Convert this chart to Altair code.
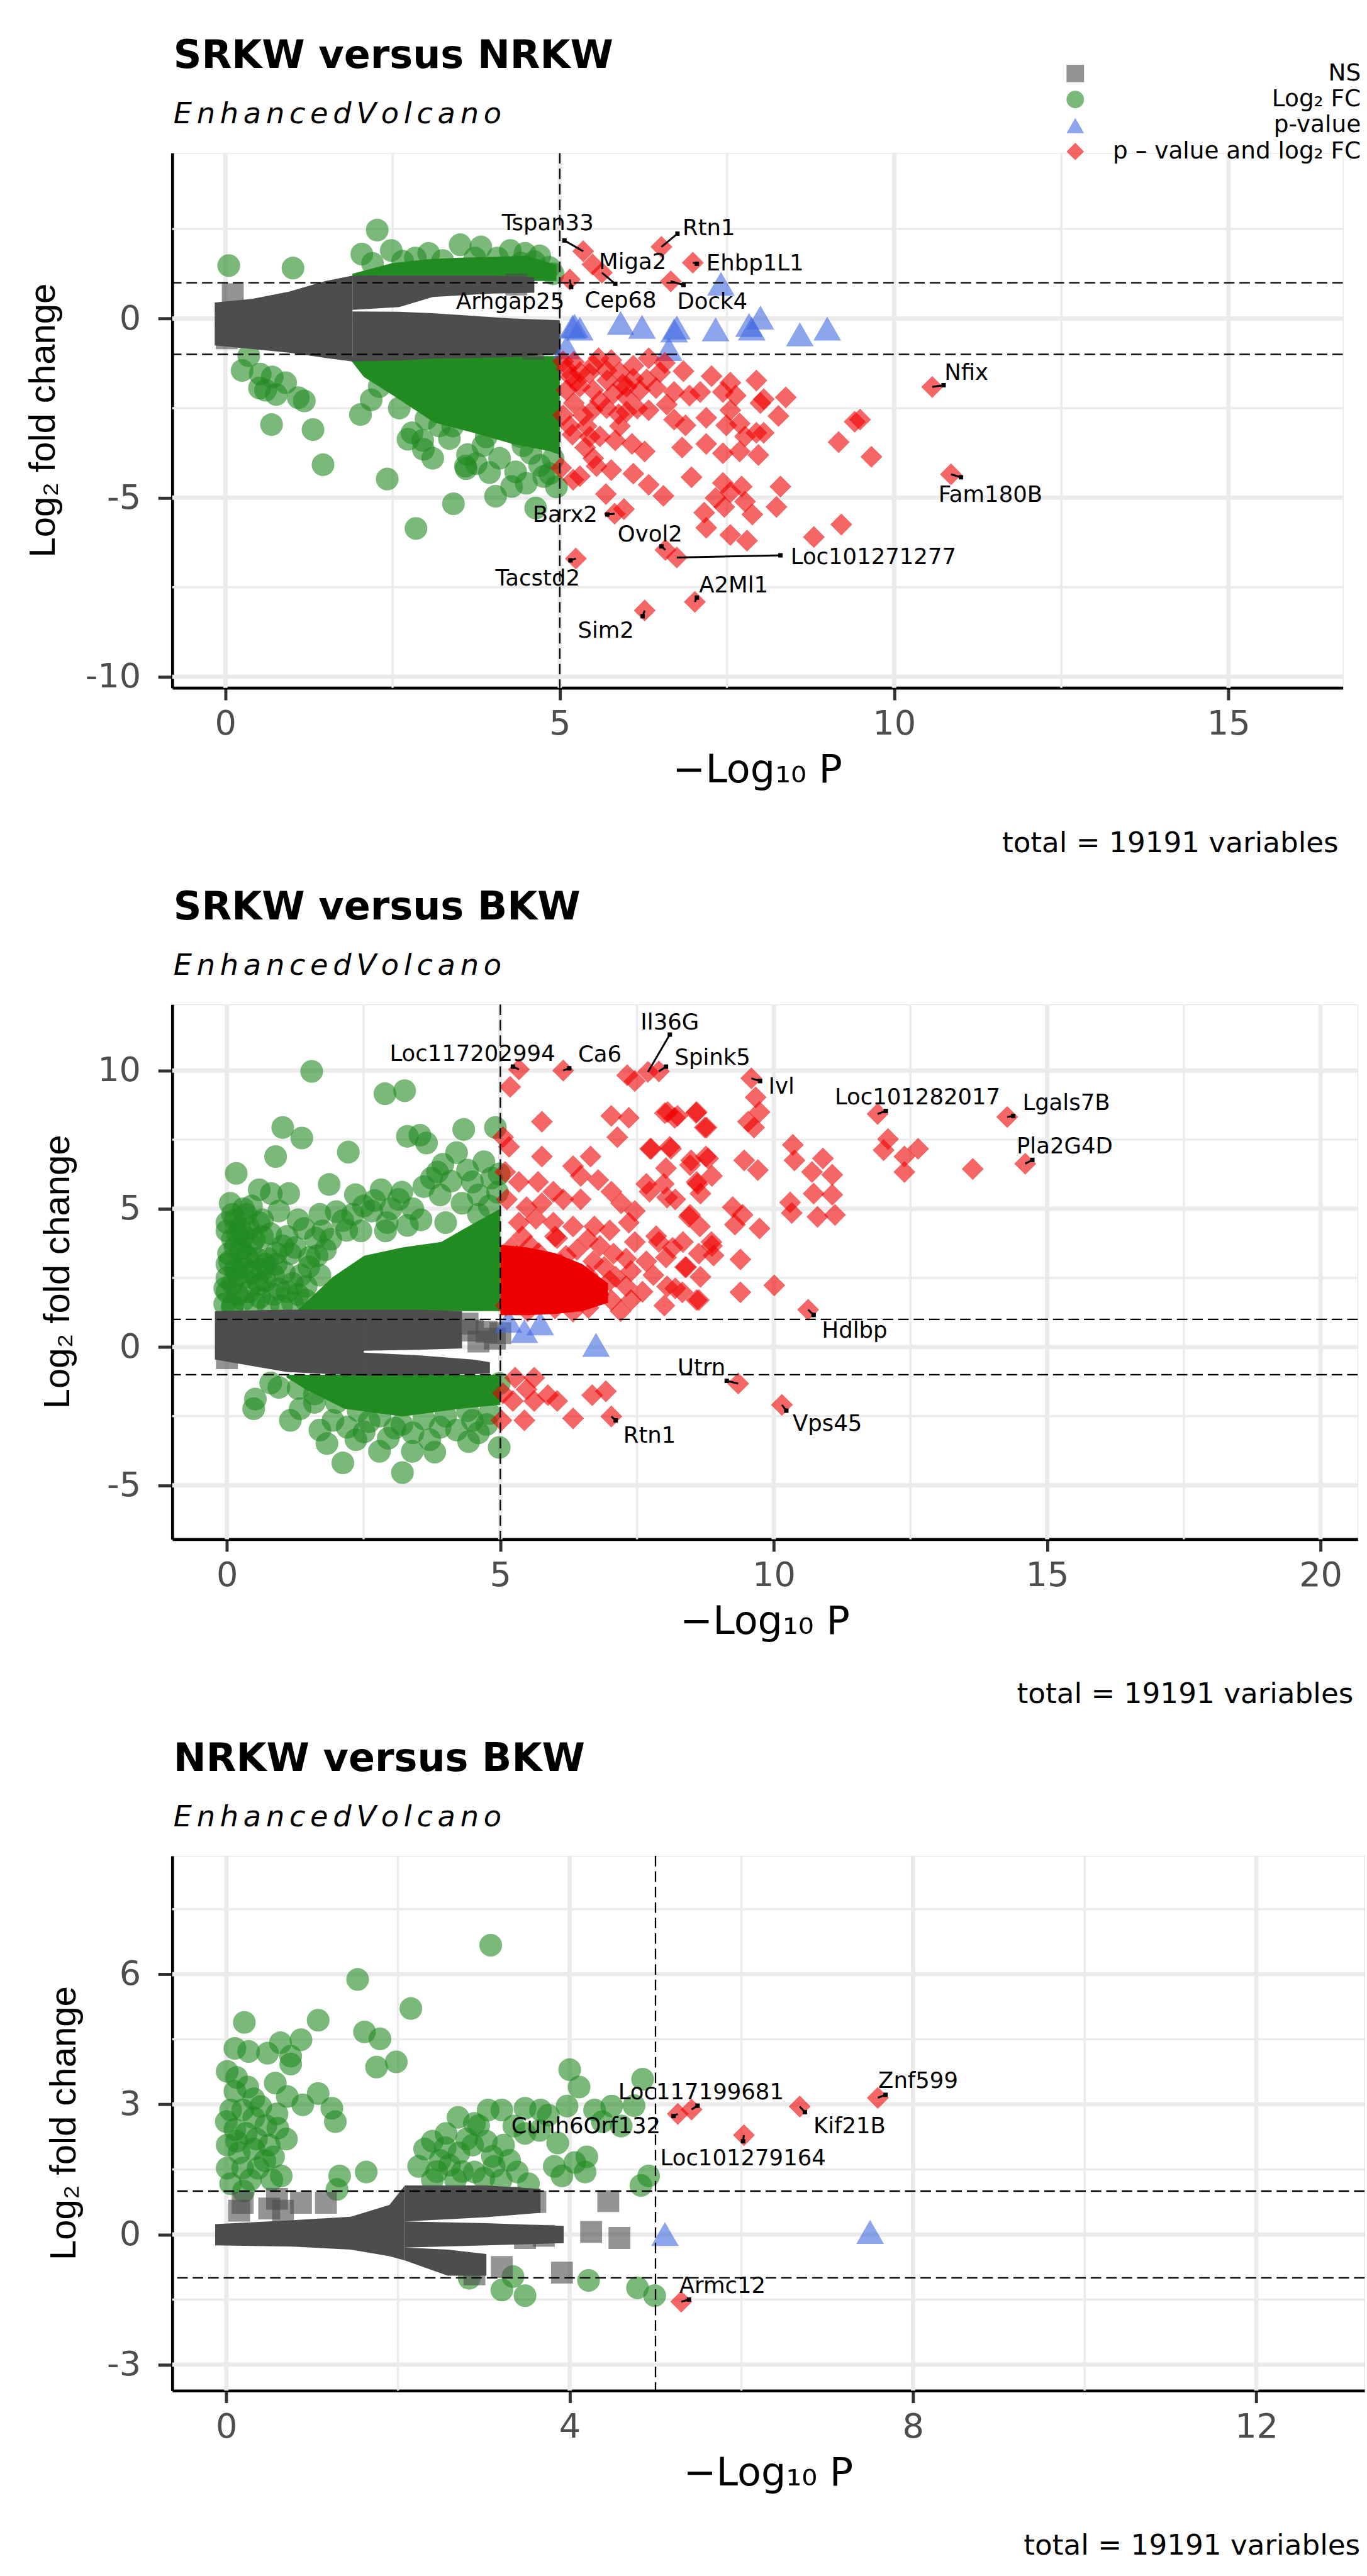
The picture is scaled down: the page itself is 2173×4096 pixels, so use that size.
import altair as alt
import pandas as pd

FONT = "DejaVu Sans"
FONT_Y = "Liberation Sans"

CATS = ["NS", "Log₂ FC", "p-value", "p – value and log₂ FC"]
CAT_COLORS = ["#4D4D4D", "#228B22", "#4169E1", "#EE0000"]
CAT_SHAPES = ["square", "circle", "triangle-up", "diamond"]
CAT_SIZES = [1250, 1350, 2000, 1250]

TITLES = ["SRKW versus NRKW", "SRKW versus BKW", "NRKW versus BKW"]
SUBTITLE = "EnhancedVolcano"
CAPTION = "total = 19191 variables"
X_TITLE = "−Log₁₀ P"
Y_TITLE = "Log₂ fold change"

# ------------------------------------------------------------------ panel 1
P1_XDOM = [-0.795, 16.71]
P1_YDOM = [-10.31, 4.62]
P1_XMAJ = [0, 5, 10, 15]
P1_XMIN = [2.5, 7.5, 12.5]
P1_YMAJ = [-10, -5, 0]
P1_YMIN = [-7.5, -2.5, 2.5]

P1_GRAY_BANDS = {
    "trunk": [(-0.16, -0.75, 0.45), (0.4, -0.85, 0.55), (0.95, -0.95, 0.75), (1.5, -1.1, 1.05), (1.9, -1.2, 1.2)],
    "upper": [(1.9, 0.24, 1.2), (2.6, 0.32, 1.2), (3.1, 0.6, 1.2), (4.0, 0.7, 1.2), (4.62, 0.72, 1.15)],
    "lower": [(1.9, -1.2, 0.2), (2.6, -1.17, 0.19), (3.1, -1.12, 0.15), (4.3, -1.08, 0.0), (5.0, -1.0, -0.05)],
}
P1_GREEN_BANDS = {
    "up": [(1.9, 1.05, 1.25), (2.5, 1.05, 1.55), (3.0, 1.05, 1.65), (3.5, 1.05, 1.7), (4.0, 1.05, 1.72), (4.5, 1.05, 1.75), (4.95, 1.05, 1.5)],
    "low": [(1.85, -1.1, -1.05), (2.07, -1.63, -1.05), (2.51, -2.15, -1.05), (3.12, -2.9, -1.05), (3.73, -3.2, -1.05), (4.29, -3.5, -1.05), (4.84, -3.7, -1.05), (5.0, -3.8, -1.05)],
}
P1_RED_BANDS = {}

P1_NS = [(0.11, 0.68), (0.02, -0.55), (4.35, 0.95), (4.6, -0.85), (4.85, -0.7)]
P1_FC = [
    (0.05, 1.48), (1.01, 1.41), (2.27, 2.47), (2.04, 1.80), (2.48, 1.90), (2.20, 1.54), (2.84, 1.69), (3.04, 1.82),
    (3.51, 2.06), (3.82, 2.00), (4.26, 1.90), (4.48, 1.82), (4.84, 1.43), (4.62, 1.59), (3.73, 1.69), (4.07, 1.69),
    (4.70, 1.75), (4.42, 1.55), (3.25, 1.62), (2.65, 1.60), (4.90, 1.25),
    (0.35, -1.04), (0.25, -1.45), (0.51, -1.94), (0.70, -1.63), (0.90, -1.79), (0.76, -2.12), (1.09, -2.21),
    (1.18, -2.30), (0.69, -2.96), (1.31, -3.10), (1.46, -4.08), (2.02, -2.68), (2.18, -2.27), (2.42, -4.48),
    (2.85, -5.86), (3.41, -5.17), (4.04, -4.96), (4.28, -4.69), (4.64, -5.29), (3.60, -4.19), (2.96, -3.65),
    (2.73, -3.37), (4.76, -4.41), (4.34, -4.28), (4.85, -4.33), (4.57, -3.76), (4.90, -3.91), (4.40, -3.29),
    (3.59, -4.12), (3.62, -3.80), (3.35, -3.35), (3.85, -3.55), (4.10, -3.90), (4.70, -4.10), (3.20, -3.00),
    (2.79, -3.19), (2.95, -3.40), (0.52, -1.55), (0.60, -2.00), (3.95, -4.30), (4.50, -4.60), (3.10, -3.90),
    (3.75, -4.05), (4.95, -4.70), (2.3, -1.9), (2.6, -2.5), (3.0, -2.8), (3.4, -3.0), (3.9, -3.3), (4.45, -3.55),
]
P1_P = [
    (5.19, -0.23), (5.30, -0.28), (5.91, -0.12), (6.23, -0.23), (6.71, -0.33), (7.33, -0.30), (7.41, 0.97),
    (7.83, -0.18), (8.00, 0.03), (7.87, -0.28), (8.59, -0.44), (9.00, -0.28), (6.63, -0.85), (5.10, -0.80),
    (6.75, -0.25), (5.22, -0.20),
]
P1_FCP = [
    (5.15, 1.09), (5.35, 1.88), (5.49, 1.51), (5.63, 1.28), (6.52, 2.00), (6.99, 1.56), (6.66, 1.04),
    (5.21, -1.21), (5.58, -1.11), (5.77, -1.16), (6.10, -1.32), (6.33, -1.11), (6.57, -1.24), (6.85, -1.47),
    (7.27, -1.61), (7.55, -1.79), (7.94, -1.73),
    (5.16, -1.63), (5.44, -1.53), (5.71, -1.73), (5.94, -1.84), (6.10, -1.68), (6.44, -1.94), (6.71, -2.05),
    (6.94, -2.15), (7.10, -2.05), (7.44, -2.05), (7.63, -2.15), (8.05, -2.25), (8.38, -2.20), (8.27, -2.72),
    (5.21, -2.36), (5.49, -2.56), (5.88, -2.67), (6.16, -2.51), (6.33, -2.56), (6.71, -2.82), (6.88, -2.98),
    (7.19, -2.77), (7.55, -2.56), (7.69, -2.93), (7.49, -2.98), (8.00, -2.36),
    (5.19, -3.24), (5.38, -3.60), (5.60, -3.29), (5.83, -3.40), (6.08, -3.50), (6.27, -3.71), (6.83, -3.60),
    (7.19, -3.50), (7.44, -3.76), (7.69, -3.71), (7.77, -3.29), (7.94, -3.19), (8.05, -3.19), (7.97, -3.81),
    (6.97, -4.43),
    (5.02, -4.17), (5.55, -4.12), (5.77, -4.23), (6.10, -4.33), (6.33, -4.64), (6.55, -4.95), (5.69, -4.90),
    (5.96, -5.32), (7.44, -4.59), (7.55, -4.85), (7.33, -5.01), (7.72, -4.69), (8.30, -4.69), (7.46, -5.26),
    (7.16, -5.42), (7.77, -5.11), (7.88, -5.47), (8.24, -5.26), (7.19, -5.84), (7.55, -6.04), (7.80, -6.20),
    (8.80, -6.10), (9.21, -5.75),
    (5.82, -5.45), (6.58, -6.46), (6.75, -6.67), (5.24, -6.70), (6.27, -8.15), (7.02, -7.91),
    (9.41, -2.88), (9.49, -2.82), (9.17, -3.45), (9.66, -3.86), (10.57, -1.91), (10.85, -4.35),
    (5.10, -1.40), (5.30, -1.50), (5.50, -1.30), (5.70, -1.45), (5.90, -1.50), (5.30, -1.90), (5.50, -2.00),
    (5.80, -2.10), (6.00, -2.20), (5.60, -2.30), (5.10, -2.00), (5.35, -2.70), (5.70, -2.50), (5.15, -3.00),
    (5.40, -3.00), (5.90, -3.00), (6.30, -1.70), (6.50, -1.50), (6.00, -1.90), (5.20, -4.50), (5.50, -3.90),
    (5.30, -4.40), (5.05, -1.20), (5.25, -1.75), (6.20, -2.00), (6.60, -2.40), (6.00, -2.60), (5.45, -3.30),
    (5.05, -2.70),
]
# name, label x, label y, point x, point y, connector end x, connector end y
P1_LABELS = [
    ("Tspan33", 4.82, 2.65, 5.35, 1.88, 5.07, 2.18),
    ("Rtn1", 7.23, 2.52, 6.52, 2.00, 6.76, 2.37),
    ("Miga2", 6.09, 1.57, 5.49, 1.51, None, None),
    ("Ehbp1L1", 7.92, 1.53, 6.99, 1.56, 7.05, 1.53),
    ("Arhgap25", 4.26, 0.47, 5.15, 1.09, 5.17, 0.88),
    ("Cep68", 5.91, 0.50, 5.63, 1.28, 5.83, 0.97),
    ("Dock4", 7.28, 0.47, 6.66, 1.04, 6.85, 0.94),
    ("Nfix", 11.08, -1.53, 10.57, -1.91, 10.74, -1.86),
    ("Fam180B", 11.44, -4.93, 10.85, -4.35, 11.00, -4.43),
    ("Barx2", 5.08, -5.49, 5.82, -5.45, 5.71, -5.47),
    ("Ovol2", 6.35, -6.04, 6.58, -6.46, 6.52, -6.36),
    ("Loc101271277", 9.69, -6.67, 6.75, -6.67, 8.30, -6.61),
    ("Tacstd2", 4.67, -7.26, 5.24, -6.70, 5.16, -6.75),
    ("Sim2", 5.69, -8.72, 6.27, -8.15, 6.24, -8.31),
    ("A2Ml1", 7.60, -7.45, 7.02, -7.91, 7.05, -7.79),
]

# ------------------------------------------------------------------ panel 2
P2_XDOM = [-1.0, 20.68]
P2_YDOM = [-6.95, 12.39]
P2_XMAJ = [0, 5, 10, 15, 20]
P2_XMIN = [2.5, 7.5, 12.5, 17.5]
P2_YMAJ = [-5, 0, 5, 10]
P2_YMIN = [-2.5, 2.5, 7.5]

P2_GRAY_BANDS = {
    "trunk": [(-0.22, -0.45, 1.3), (1.09, -0.9, 1.35), (2.5, -1.04, 1.35)],
    "upper": [(2.5, -0.13, 1.35), (3.5, -0.1, 1.35), (4.3, -0.05, 1.3)],
    "lower": [(2.5, -1.04, -0.2), (3.5, -1.02, -0.3), (4.5, -0.98, -0.45), (4.81, -0.95, -0.55)],
}
P2_GREEN_BANDS = {
    "up": [(1.3, 1.3, 1.35), (1.94, 1.3, 2.54), (2.51, 1.3, 3.3), (3.21, 1.3, 3.6), (3.92, 1.3, 3.8), (4.27, 1.3, 4.2), (4.63, 1.3, 4.6), (5.0, 1.3, 5.0)],
    "low": [(1.09, -1.1, -1.0), (1.44, -1.53, -1.0), (2.15, -2.23, -1.0), (3.21, -2.51, -1.0), (4.27, -2.23, -1.0), (5.0, -2.09, -1.0)],
}
P2_RED_BANDS = {
    "core": [(5.0, 1.15, 3.7), (5.5, 1.15, 3.6), (6.0, 1.2, 3.4), (6.5, 1.3, 3.0), (6.97, 1.6, 2.3)],
}
P2_NS = [(4.5, 0.6), (4.75, 0.55), (5.0, 0.5), (4.9, 0.3), (4.6, 0.2), (4.4, 0.85), (0.0, -0.4)]
P2_FC = [
    (1.55, 9.97), (2.89, 9.16), (3.25, 9.27), (1.02, 7.94), (1.37, 7.56), (2.22, 7.05), (0.89, 6.89), (0.17, 6.28),
    (3.30, 7.62), (3.53, 7.66), (3.65, 7.38), (4.33, 7.87), (4.91, 7.94), (4.20, 7.03), (3.95, 6.61), (3.85, 6.33),
    (3.74, 6.11), (0.59, 5.69), (0.81, 5.55), (1.13, 5.55), (1.87, 5.88), (2.35, 5.51), (2.82, 5.69), (3.14, 5.34),
    (4.49, 5.97), (4.84, 6.11), (4.98, 6.26), (0.06, 5.20), (0.00, 4.50), (0.24, 4.29), (0.59, 4.50), (0.95, 4.92),
    (1.41, 4.29), (2.12, 4.57), (2.19, 4.22), (1.62, 3.94), (1.80, 3.52), (1.51, 3.24), (1.16, 3.38), (1.02, 3.66),
    (0.38, 3.24), (0.03, 3.38), (-0.04, 2.12), (0.59, 2.26), (-0.04, 1.56), (1.44, 1.70), (2.65, 4.92), (2.93, 4.50),
    (0.15, 2.80), (0.30, 2.50), (0.10, 3.90), (0.45, 3.70), (0.70, 3.00), (0.80, 4.10), (0.20, 1.90), (0.50, 1.60),
    (0.85, 1.90), (1.20, 2.30), (1.05, 2.70), (0.35, 4.80), (0.65, 4.00), (1.30, 4.60), (1.70, 4.80), (3.40, 5.00),
    (3.90, 5.50), (4.30, 5.20), (4.60, 4.80), (4.95, 5.60), (4.70, 6.70), (3.55, 4.60), (2.45, 4.20), (0.00, 2.50),
    (0.25, 3.55), (0.10, 1.50), (0.40, 2.00), (0.70, 2.40), (0.00, 3.00), (0.30, 4.00), (0.55, 3.20), (0.90, 3.40),
    (1.30, 1.90), (0.15, 4.60), (0.45, 5.10), (1.00, 1.50),
    (0.00, 2.00), (0.10, 2.30), (0.20, 2.60), (0.30, 2.90), (0.05, 3.10), (0.15, 3.60), (0.35, 3.30), (0.45, 2.70),
    (0.55, 2.40), (0.65, 2.80), (0.75, 3.20), (0.85, 2.60), (0.95, 2.10), (0.60, 1.80), (0.30, 1.70), (0.10, 1.45),
    (0.75, 1.50), (0.90, 3.00), (0.20, 4.10), (0.40, 4.30), (0.50, 3.90), (0.65, 4.60), (0.10, 4.80), (0.30, 5.00),
    (0.00, 4.20), (1.10, 4.00), (1.25, 3.60), (1.10, 2.00), (1.35, 2.60), (1.50, 2.90), (1.65, 3.30), (1.75, 4.20),
    (1.90, 3.90), (2.00, 4.90), (2.30, 4.80), (2.50, 5.10), (2.70, 5.30), (3.00, 5.00), (3.20, 5.60), (3.60, 5.80),
    (4.10, 6.00), (4.40, 6.40), (4.60, 5.50), (4.80, 5.10), (3.30, 4.40), (2.90, 4.20), (4.00, 4.50), (1.45, 2.20),
    (1.70, 2.60), (1.20, 1.60),
    (0.95, -1.46), (0.52, -1.88), (0.49, -2.23), (1.16, -2.65), (1.34, -2.23), (1.83, -3.49), (2.12, -4.19),
    (2.36, -3.35), (2.79, -3.77), (3.21, -4.54), (3.39, -3.77), (3.71, -3.35), (4.42, -3.42), (4.98, -3.63),
    (4.49, -2.65), (1.94, -2.65), (2.51, -3.07), (3.07, -2.93), (4.98, -1.32), (4.75, -2.80), (3.90, -2.90),
    (2.20, -2.90), (1.60, -2.00), (0.80, -1.30), (4.20, -3.00), (2.95, -3.30), (1.70, -3.00),
    (1.30, -1.50), (1.60, -1.70), (2.00, -2.00), (2.40, -2.30), (2.80, -2.50), (3.20, -2.80), (3.60, -2.60),
    (4.00, -2.50), (4.40, -2.30), (4.80, -2.40), (3.40, -3.10), (2.60, -2.70), (3.80, -3.80), (4.60, -3.10),
]
P2_P = [(5.44, 0.58), (5.73, 0.86), (6.75, 0.08), (5.15, 0.95)]
P2_FCP = [
    (5.34, 10.04), (5.18, 9.41), (6.15, 10.00), (7.46, 9.62), (7.32, 9.83), (7.70, 9.95), (7.90, 9.97),
    (5.76, 8.15), (7.03, 8.36), (7.35, 8.29), (7.14, 7.59), (8.06, 8.50), (8.24, 8.36), (8.59, 8.50), (8.77, 7.94),
    (5.05, 7.59), (5.16, 7.24), (5.76, 6.89), (6.33, 6.54), (6.65, 6.89), (7.74, 7.17), (8.10, 7.24), (8.49, 6.75),
    (8.80, 6.82), (8.03, 6.47),
    (5.09, 6.33), (5.34, 5.97), (5.69, 5.97), (5.97, 5.62), (6.47, 6.19), (6.79, 6.04), (7.03, 5.62), (7.67, 5.90),
    (7.99, 5.90), (8.59, 5.97), (8.66, 5.55), (8.87, 6.19),
    (5.12, 5.34), (5.48, 5.06), (5.76, 5.20), (6.15, 5.34), (6.47, 5.34), (7.21, 5.20), (7.46, 4.92), (8.45, 4.71),
    (8.20, 5.34),
    (5.34, 4.50), (5.65, 4.64), (5.97, 4.50), (6.33, 4.36), (6.72, 4.36), (7.00, 4.22), (7.35, 4.50), (7.85, 4.01),
    (8.34, 3.80), (8.87, 3.66), (8.63, 3.38),
    (5.55, 3.66), (6.04, 3.94), (6.40, 3.52), (6.82, 3.66), (7.07, 3.38), (7.46, 3.80), (7.67, 3.10), (8.03, 3.24),
    (8.38, 2.89), (8.66, 2.54),
    (7.11, 2.54), (7.39, 2.75), (6.75, 2.12), (7.03, 1.70), (7.39, 1.70), (6.61, 1.42), (6.33, 1.28), (8.59, 1.70),
    (8.20, 2.12),
    (9.59, 9.72), (9.67, 9.03), (9.74, 8.50), (9.53, 8.15), (9.64, 7.94), (8.01, 8.46), (8.19, 8.29), (8.58, 8.47),
    (8.74, 7.94),
    (11.90, 8.43), (14.27, 8.32), (14.60, 6.63), (12.09, 7.52), (12.01, 7.12), (12.39, 6.89), (12.64, 7.17),
    (12.39, 6.33), (13.64, 6.44),
    (10.35, 7.31), (10.38, 6.75), (10.90, 6.82), (10.70, 6.33), (11.07, 6.23), (10.73, 5.55), (11.07, 5.51),
    (10.30, 5.23), (10.33, 4.85), (10.80, 4.71), (11.12, 4.78),
    (7.76, 7.17), (8.12, 7.17), (8.76, 6.89), (9.46, 6.75), (9.71, 6.40), (8.47, 6.58), (8.61, 5.90), (8.05, 5.41),
    (7.73, 5.62), (8.47, 4.78), (9.25, 5.06), (9.43, 4.78), (9.74, 4.29), (9.29, 4.43), (8.65, 4.36),
    (7.90, 3.80), (8.15, 3.59), (8.86, 3.80), (8.40, 2.89), (9.39, 3.17), (8.90, 3.31),
    (8.05, 2.19), (8.33, 1.98), (8.63, 1.70), (9.39, 1.98), (10.01, 2.23),
    (10.63, 1.35), (9.35, -1.32), (10.15, -2.09),
    (5.20, 2.80), (5.70, 2.60), (6.20, 2.40), (6.60, 2.60), (5.90, 1.60), (5.40, 1.80), (6.90, 2.90), (7.30, 2.20),
    (6.10, 3.00), (5.30, 3.30),
    (5.10, 1.50), (5.30, 2.20), (5.60, 2.90), (5.90, 2.10), (6.30, 1.80), (6.50, 2.30), (6.80, 1.90), (7.00, 2.40),
    (5.20, 3.60), (5.70, 3.40), (6.20, 3.30), (6.70, 3.10), (5.50, 1.30), (6.00, 1.40), (7.20, 1.30), (7.60, 2.00),
    (7.80, 2.60), (8.00, 1.50), (5.40, 4.00), (6.00, 4.00), (6.60, 3.90), (7.30, 3.20),
    (5.27, -1.11), (5.62, -1.11), (5.48, -1.53), (5.05, -1.67), (5.23, -1.95), (5.62, -1.95), (5.87, -1.74),
    (6.04, -1.95), (6.68, -1.74), (6.93, -1.60), (5.02, -2.65), (5.44, -2.65), (6.33, -2.58), (7.03, -2.51),
]
P2_LABELS = [
    ("Loc117202994", 4.49, 10.60, 5.34, 10.04, 5.23, 10.14),
    ("Ca6", 6.82, 10.56, 6.15, 10.00, 6.26, 10.08),
    ("Il36G", 8.10, 11.72, 7.70, 9.95, 8.10, 11.30),
    ("Spink5", 8.88, 10.46, 7.90, 9.97, 8.03, 10.14),
    ("Ivl", 10.14, 9.41, 9.59, 9.72, 9.75, 9.62),
    ("Loc101282017", 12.63, 9.02, 11.90, 8.43, 12.05, 8.54),
    ("Lgals7B", 15.35, 8.82, 14.27, 8.32, 14.38, 8.36),
    ("Pla2G4D", 15.32, 7.24, 14.60, 6.63, 14.73, 6.77),
    ("Hdlbp", 11.48, 0.58, 10.63, 1.35, 10.73, 1.16),
    ("Utrn", 8.68, -0.76, 9.35, -1.32, 9.14, -1.22),
    ("Vps45", 10.98, -2.79, 10.15, -2.09, 10.23, -2.30),
    ("Rtn1", 7.73, -3.21, 7.03, -2.51, 7.11, -2.65),
]

# ------------------------------------------------------------------ panel 3
P3_XDOM = [-0.63, 13.26]
P3_YDOM = [-3.60, 8.73]
P3_XMAJ = [0, 4, 8, 12]
P3_XMIN = [2, 6, 10]
P3_YMAJ = [-3, 0, 3, 6]
P3_YMIN = [-1.5, 1.5, 4.5, 7.5]

P3_GRAY_BANDS = {
    "trunk": [(-0.13, -0.25, 0.24), (0.78, -0.28, 0.33), (1.45, -0.35, 0.41), (1.9, -0.5, 0.68), (2.08, -0.6, 1.13)],
    "upper": [(2.08, 0.3, 1.13), (2.58, 0.35, 1.13), (3.03, 0.4, 1.13), (3.66, 0.5, 1.05)],
    "middle": [(2.08, -0.3, 0.3), (3.03, -0.25, 0.26), (3.93, -0.2, 0.2)],
    "lower": [(2.08, -0.6, -0.3), (2.58, -0.95, -0.35), (3.03, -0.95, -0.45)],
}
P3_GREEN_BANDS = {}
P3_RED_BANDS = {}
P3_NS = [
    (0.19, 0.73), (0.59, 0.82), (0.87, 0.73), (1.16, 0.73), (0.66, 0.55), (0.15, 0.55), (3.48, -0.08), (3.70, -0.03),
    (4.25, 0.06), (4.58, -0.08), (3.21, -0.75), (3.91, -0.88), (2.89, -0.92), (4.45, 0.77), (3.30, 0.85),
    (3.60, 0.75), (0.50, 0.60),
]
P3_FC = [
    (3.08, 6.67), (1.53, 5.88), (2.15, 5.21), (0.21, 4.89), (1.07, 4.94), (1.61, 4.67), (1.79, 4.51), (1.98, 3.98),
    (1.75, 3.86), (0.87, 4.49), (0.63, 4.42), (0.48, 4.18), (0.10, 4.29), (0.26, 4.22), (0.75, 4.11), (0.75, 3.93),
    (0.01, 3.76), (0.12, 3.62), (0.57, 3.49), (1.07, 3.25), (0.89, 2.99), (1.23, 2.91), (1.27, 2.60), (0.71, 3.18),
    (0.32, 3.13),
    (0.05, 2.87), (0.19, 2.87), (0.32, 2.69), (0.10, 2.42), (0.23, 2.33), (0.46, 2.51), (0.59, 2.78), (0.01, 2.06),
    (0.15, 1.88), (0.32, 1.97), (0.50, 2.06), (0.55, 1.79), (0.01, 1.53), (0.19, 1.53), (0.37, 1.53), (0.05, 1.17),
    (0.28, 1.26), (0.53, 1.26), (0.64, 1.35), (0.12, 2.15), (0.35, 2.20), (0.00, 2.60), (0.45, 1.70), (0.10, 3.30),
    (0.25, 3.40), (0.40, 2.95), (0.60, 2.45), (0.70, 2.20), (0.20, 1.00),
    (1.32, 1.35), (1.63, 1.44), (1.29, 1.04),
    (2.40, 2.15), (2.56, 2.33), (2.31, 1.97), (2.24, 1.57), (2.49, 1.71), (2.71, 1.88), (2.87, 2.06), (2.94, 2.51),
    (3.05, 2.87), (3.21, 2.87), (2.89, 2.56), (3.03, 2.15), (3.23, 2.06), (3.30, 1.71), (3.12, 1.57), (2.89, 1.44),
    (2.67, 1.26), (2.40, 1.26), (3.39, 1.44), (3.48, 2.91), (3.66, 2.87), (3.97, 2.96), (4.29, 2.87), (4.49, 2.96),
    (4.00, 3.80), (4.11, 3.40), (4.85, 3.58), (3.48, 2.33), (3.86, 2.11), (3.82, 1.57), (3.91, 1.35), (4.06, 1.66),
    (4.20, 1.79), (4.18, 1.44), (3.52, 1.17), (4.83, 1.13), (4.92, 1.35), (4.38, 2.60), (4.75, 2.97), (2.60, 1.60),
    (2.75, 1.45), (3.00, 1.30), (3.20, 1.25), (2.55, 2.00), (2.80, 2.20), (3.10, 1.80), (2.45, 1.45), (3.35, 2.50),
    (2.70, 2.70), (3.65, 2.40), (3.75, 2.75), (4.60, 2.50),
    (2.83, -1.01), (3.21, -1.28), (3.48, -1.41), (3.34, -0.97), (4.22, -1.06), (4.79, -1.23), (4.99, -1.41),
]
P3_P = [(5.11, 0.01), (7.50, 0.06)]
P3_FCP = [(7.59, 3.15), (6.68, 2.95), (5.42, 2.88), (5.26, 2.78), (6.03, 2.29), (5.30, -1.55)]
P3_LABELS = [
    ("Znf599", 8.06, 3.53, 7.59, 3.15, 7.68, 3.22),
    ("Kif21B", 7.26, 2.49, 6.68, 2.95, 6.74, 2.82),
    ("Loc117199681", 5.53, 3.27, 5.42, 2.88, 5.49, 2.97),
    ("Cunh6Orf132", 4.19, 2.49, 5.26, 2.78, 5.21, 2.73),
    ("Loc101279164", 6.02, 1.75, 6.03, 2.29, 6.02, 2.15),
    ("Armc12", 5.78, -1.19, 5.30, -1.55, 5.39, -1.50),
]

# ------------------------------------------------------------------ layout (output px)
PANELS = [
    dict(title=TITLES[0], w=1890, xdom=P1_XDOM, ydom=P1_YDOM, xmaj=P1_XMAJ, xmin=P1_XMIN, ymaj=P1_YMAJ, ymin=P1_YMIN,
         gray=P1_GRAY_BANDS, green=P1_GREEN_BANDS, red=P1_RED_BANDS, ns=P1_NS, fc=P1_FC, p=P1_P, fcp=P1_FCP,
         labels=P1_LABELS, ytx=-189.7, legend=True),
    dict(title=TITLES[1], w=1914, xdom=P2_XDOM, ydom=P2_YDOM, xmaj=P2_XMAJ, xmin=P2_XMIN, ymaj=P2_YMAJ, ymin=P2_YMIN,
         gray=P2_GRAY_BANDS, green=P2_GREEN_BANDS, red=P2_RED_BANDS, ns=P2_NS, fc=P2_FC, p=P2_P, fcp=P2_FCP,
         labels=P2_LABELS, ytx=-166.5, legend=False),
    dict(title=TITLES[2], w=1925, xdom=P3_XDOM, ydom=P3_YDOM, xmaj=P3_XMAJ, xmin=P3_XMIN, ymaj=P3_YMAJ, ymin=P3_YMIN,
         gray=P3_GRAY_BANDS, green=P3_GREEN_BANDS, red=P3_RED_BANDS, ns=P3_NS, fc=P3_FC, p=P3_P, fcp=P3_FCP,
         labels=P3_LABELS, ytx=-155.9, legend=False),
]
H = 863.7
LAB_EXPR = "datum.value < 0 ? '-' + (-datum.value) : '' + datum.value"


def bands_df(bands):
    rows = []
    for part, pts in bands.items():
        for (x, lo, hi) in pts:
            rows.append({"part": part, "x": x, "y": hi, "y2": lo})
    return pd.DataFrame(rows)


def pts_df(pairs, cat):
    return pd.DataFrame({"x": [p[0] for p in pairs], "y": [p[1] for p in pairs], "cat": cat})


def text_layer(text, x, y, size, font=FONT, **kw):
    return alt.Chart(pd.DataFrame({"t": [text]})).mark_text(font=font, fontSize=size, color="black", **kw).encode(
        x=alt.value(x), y=alt.value(y), text="t:N")


def build_panel(cfg):
    W = cfg["w"]
    xsc = alt.Scale(domain=cfg["xdom"], nice=False, zero=False)
    ysc = alt.Scale(domain=cfg["ydom"], nice=False, zero=False)
    xax = alt.Axis(values=cfg["xmaj"], grid=False, domainColor="black", domainWidth=4.8, tickColor="#333333",
                   tickWidth=5, tickSize=19.6, labelFont=FONT, labelFontSize=55, labelColor="#4D4D4D",
                   labelPadding=12.5, labelExpr=LAB_EXPR, labelFlush=False, labelOverlap=False)
    yax = alt.Axis(values=cfg["ymaj"], grid=False, domainColor="black", domainWidth=4.8, tickColor="#333333",
                   tickWidth=5, tickSize=23, labelFont=FONT, labelFontSize=55, labelColor="#4D4D4D",
                   labelPadding=28, labelExpr=LAB_EXPR, labelFlush=False, labelOverlap=False)
    X = alt.X("x:Q", scale=xsc, axis=xax, title=None)
    Y = alt.Y("y:Q", scale=ysc, axis=yax, title=None)

    layers = []
    layers.append(alt.Chart(pd.DataFrame({"x": cfg["xmin"]})).mark_rule(color="#EBEBEB", strokeWidth=3.5).encode(x=X))
    layers.append(alt.Chart(pd.DataFrame({"y": cfg["ymin"]})).mark_rule(color="#EBEBEB", strokeWidth=3.5).encode(y=Y))
    layers.append(alt.Chart(pd.DataFrame({"x": cfg["xmaj"]})).mark_rule(color="#EBEBEB", strokeWidth=7).encode(x=X))
    layers.append(alt.Chart(pd.DataFrame({"y": cfg["ymaj"]})).mark_rule(color="#EBEBEB", strokeWidth=7).encode(y=Y))

    if cfg["legend"]:
        leg = alt.Legend(orient="none", legendX=1439, legendY=-147.5, direction="vertical", title=None, padding=0,
                         labelAlign="right", labelOffset=442, labelLimit=1000, labelFont=FONT, labelFontSize=38,
                         labelColor="black", symbolSize=800, symbolOpacity=0.6, symbolStrokeWidth=0, rowPadding=4)
    else:
        leg = None
    col = alt.Color("cat:N", scale=alt.Scale(domain=CATS, range=CAT_COLORS), legend=leg)
    shp = alt.Shape("cat:N", scale=alt.Scale(domain=CATS, range=CAT_SHAPES), legend=leg)

    def band(bands, color):
        return alt.Chart(bands_df(bands)).mark_area(color=color, opacity=1, interpolate="linear").encode(
            x=X, y=Y, y2=alt.Y2("y2:Q"), detail="part:N")

    def points(pairs, i):
        return alt.Chart(pts_df(pairs, CATS[i])).mark_point(filled=True, size=CAT_SIZES[i], opacity=0.6,
                                                            strokeWidth=0).encode(x=X, y=Y, color=col, shape=shp)

    if cfg["green"]:
        layers.append(band(cfg["green"], "#228B22"))
    layers.append(points(cfg["fc"], 1))
    layers.append(band(cfg["gray"], "#4D4D4D"))
    layers.append(points(cfg["ns"], 0))
    layers.append(points(cfg["p"], 2))
    if cfg["red"]:
        layers.append(band(cfg["red"], "#EE0000"))
    layers.append(points(cfg["fcp"], 3))

    layers.append(alt.Chart(pd.DataFrame({"x": [5]})).mark_rule(color="black", strokeWidth=2.3,
                                                               strokeDash=[17, 8]).encode(x=X))
    layers.append(alt.Chart(pd.DataFrame({"y": [-1, 1]})).mark_rule(color="black", strokeWidth=2.3,
                                                                   strokeDash=[17, 8]).encode(y=Y))

    lab = pd.DataFrame(cfg["labels"], columns=["name", "lx", "ly", "px", "py", "dx", "dy"])
    con = lab.dropna()
    con_df = pd.DataFrame({"x": con["px"], "y": con["py"], "x2": con["dx"], "y2": con["dy"]})
    layers.append(alt.Chart(con_df).mark_rule(color="black", strokeWidth=3).encode(
        x=X, y=Y, x2=alt.X2("x2:Q"), y2=alt.Y2("y2:Q")))
    dot_df = pd.DataFrame({"x": con["dx"], "y": con["dy"]})
    layers.append(alt.Chart(dot_df).mark_square(color="black", size=50, opacity=1).encode(x=X, y=Y))
    txt_df = pd.DataFrame({"x": lab["lx"], "y": lab["ly"], "name": lab["name"]})
    layers.append(alt.Chart(txt_df).mark_text(font=FONT, fontSize=36, color="black", align="center",
                                              baseline="middle").encode(x=X, y=Y, text="name:N"))

    layers.append(text_layer(cfg["title"], 2, -137, 63, fontWeight="bold", align="left", baseline="alphabetic"))
    layers.append(text_layer("\u2006".join(SUBTITLE), 2, -47.8, 47, fontStyle="italic", align="left",
                             baseline="alphabetic"))
    layers.append(text_layer(X_TITLE, W / 2, 1016.6, 63, align="center", baseline="alphabetic"))
    layers.append(text_layer(CAPTION, W - 7, 1128.7, 46, align="right", baseline="alphabetic"))
    layers.append(text_layer(Y_TITLE, cfg["ytx"], H / 2, 59, font=FONT_Y, angle=270, align="center",
                             baseline="alphabetic"))

    return alt.layer(*layers).properties(width=W, height=H)


charts = [build_panel(c) for c in PANELS]
chart = alt.vconcat(*charts, spacing=48).resolve_scale(
    x="independent", y="independent", color="independent", shape="independent"
).resolve_legend(color="independent", shape="independent").properties(
    padding={"left": 40.1, "top": 27, "right": 0, "bottom": 0}
).configure_view(stroke="transparent").configure(background="white")

chart.save("out.html", embed_options={"renderer": "svg", "actions": False})
